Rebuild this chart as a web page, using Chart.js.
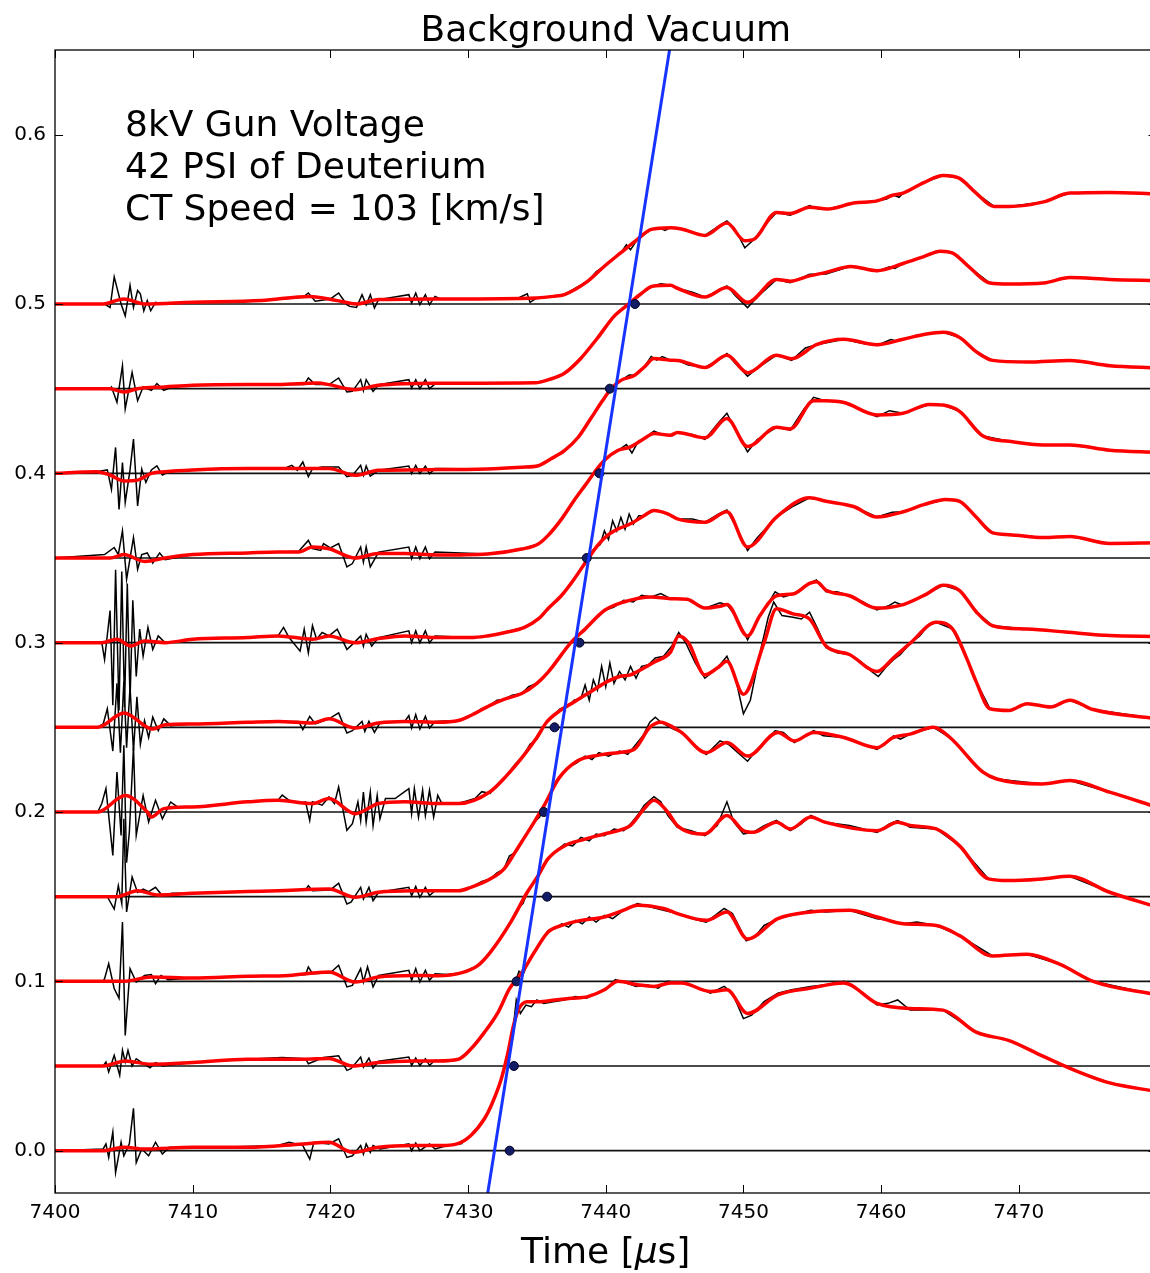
<!DOCTYPE html>
<html>
<head>
<meta charset="utf-8">
<title>Background Vacuum</title>
<script src="https://cdn.jsdelivr.net/npm/chart.js@4.4.0/dist/chart.umd.min.js"></script>
<style>
  html, body { margin: 0; padding: 0; background: #fff; }
  #wrap { width: 1150px; height: 1273px; overflow: hidden; }
</style>
</head>
<body>
<div id="wrap"><canvas id="chart" width="1162" height="1273"></canvas></div>
<script>
// axis ranges: time in microseconds, probe signals stacked 0.05 apart
const xMin = 7400, xMax = 7480;
const yMin = -0.025, yMax = 0.65;
const xTicks = [7400, 7410, 7420, 7430, 7440, 7450, 7460, 7470];
const yTicks = [0.0, 0.1, 0.2, 0.3, 0.4, 0.5, 0.6];
const offsets = [0.0, 0.05, 0.10, 0.15, 0.20, 0.25, 0.30, 0.35, 0.40, 0.45, 0.50];

// arrival markers and the linear fit through them
const arrivalTimes = [7433.02, 7433.33, 7433.53, 7435.74, 7435.5, 7436.28, 7438.09, 7438.62, 7439.54, 7440.3, 7442.12];
const fitTimes = [7430.94, 7445.61];
const fitLevels = [-0.05, 0.70];

// smoothed signals [time, value], value relative to the trace offset
const smooth00 = [[7400,0],[7403.5,0],[7405,0.002],[7406.5,0.001],[7410,0.002],[7414,0.002],[7418,0.004],[7419.9,0.005],[7421.6,-0.001],[7423.5,0.002],[7426,0.003],[7428,0.003],[7429.2,0.004],[7430.2,0.009],[7431.2,0.019],[7431.7,0.027],[7432.4,0.042],[7432.9,0.058],[7433.3,0.074],[7433.7,0.084],[7434.3,0.088],[7435.1,0.088],[7436.3,0.089],[7437.5,0.090],[7438.7,0.091],[7439.9,0.095],[7440.9,0.100],[7442.3,0.098],[7443.5,0.097],[7444.7,0.099],[7445.5,0.099],[7447.6,0.094],[7448.8,0.095],[7450.3,0.081],[7452.5,0.092],[7454.9,0.096],[7457.3,0.099],[7459.7,0.087],[7462.1,0.084],[7464.5,0.083],[7466.9,0.070],[7469.3,0.065],[7471.7,0.056],[7474.2,0.047],[7476.6,0.040],[7480,0.035]];
const smooth05 = [[7400,0],[7403.5,0],[7405.1,0.003],[7407,0.001],[7410,0.002],[7414,0.004],[7418,0.004],[7419.9,0.0045],[7421.6,0],[7423.5,0.002],[7426,0.003],[7427.8,0.003],[7429.3,0.004],[7430.2,0.010],[7431.2,0.020],[7432.2,0.032],[7433.0,0.0455],[7433.9,0.055],[7434.8,0.067],[7435.8,0.079],[7436.8,0.083],[7438.2,0.086],[7439.9,0.088],[7441.3,0.092],[7442.3,0.095],[7444.2,0.093],[7445.2,0.090],[7447.3,0.086],[7448.8,0.091],[7450.3,0.075],[7452.5,0.087],[7454.9,0.091],[7457.7,0.092],[7459.7,0.088],[7461.6,0.084],[7464.0,0.083],[7465.7,0.077],[7468.1,0.065],[7470.6,0.066],[7473.0,0.060],[7475.4,0.050],[7480,0.042]];
const smooth10 = [[7400,0],[7403.5,0],[7405,0],[7407,0.0026],[7410,0.002],[7414,0.003],[7417,0.0035],[7419.9,0.0055],[7421.8,-0.0004],[7423.5,0.0026],[7426,0.0035],[7427.8,0.0033],[7429.5,0.005],[7430.7,0.0093],[7431.6,0.017],[7433.1,0.035],[7434.3,0.0526],[7435.1,0.0625],[7435.8,0.0723],[7437.0,0.080],[7438.5,0.084],[7439.9,0.087],[7441.3,0.090],[7441.8,0.092],[7442.8,0.102],[7443.5,0.107],[7444.5,0.100],[7445.2,0.092],[7447.2,0.087],[7448.8,0.098],[7450.0,0.089],[7450.7,0.088],[7452.4,0.094],[7453.4,0.090],[7454.9,0.097],[7455.9,0.094],[7459.7,0.089],[7461.2,0.094],[7462.1,0.092],[7464.0,0.090],[7465.7,0.080],[7467.8,0.0605],[7469.3,0.0595],[7471.7,0.0605],[7473.7,0.062],[7476.6,0.0526],[7480,0.044]];
const smooth15 = [[7400,0],[7403.5,0],[7404.5,0],[7406,0.0035],[7407.5,0.001],[7410,0.002],[7414,0.003],[7416.2,0.0035],[7419.9,0.0045],[7421.8,-0.0004],[7423.5,0.0026],[7426,0.0035],[7427.8,0.0035],[7429.3,0.0035],[7430.2,0.0055],[7431.6,0.0104],[7432.6,0.0163],[7433.4,0.026],[7434.1,0.035],[7434.8,0.044],[7435.6,0.055],[7436.6,0.070],[7437.9,0.080],[7439.5,0.0836],[7441.0,0.0852],[7442.1,0.0872],[7443.2,0.100],[7444.0,0.103],[7444.9,0.100],[7445.5,0.097],[7447.3,0.085],[7448.8,0.091],[7450.3,0.083],[7452.5,0.097],[7453.7,0.092],[7455.1,0.097],[7457.3,0.094],[7459.7,0.088],[7460.9,0.094],[7462.1,0.096],[7463.8,0.100],[7465.0,0.094],[7467.4,0.0735],[7468.4,0.0695],[7471.7,0.0666],[7473.7,0.0686],[7476.6,0.0617],[7480,0.053]];
const smooth20 = [[7400,0],[7403.1,0],[7405.1,0.0098],[7406.7,0],[7407.0,-0.003],[7407.9,0.002],[7410,0.003],[7414,0.006],[7416.2,0.0069],[7418.7,0.005],[7419.9,0.0079],[7421.8,-0.001],[7423.5,0.005],[7425.4,0.006],[7427.8,0.005],[7429.3,0.005],[7431.6,0.012],[7432.8,0.0215],[7434.0,0.033],[7435.0,0.044],[7435.7,0.053],[7436.7,0.060],[7437.7,0.065],[7438.9,0.071],[7440.1,0.077],[7441.0,0.080],[7441.8,0.081],[7442.3,0.083],[7443.5,0.0885],[7444.7,0.0944],[7445.3,0.104],[7446.0,0.100],[7447.2,0.081],[7448.1,0.085],[7448.8,0.089],[7450.0,0.0695],[7451.5,0.100],[7452.4,0.120],[7453.6,0.117],[7454.8,0.114],[7456.0,0.098],[7457.7,0.093],[7459.7,0.083],[7460.9,0.091],[7462.1,0.0996],[7464.0,0.112],[7465.2,0.108],[7466.2,0.091],[7466.9,0.077],[7467.9,0.061],[7469.3,0.060],[7470.6,0.064],[7472.3,0.062],[7473.7,0.066],[7475.4,0.0605],[7480,0.055]];
const smooth25 = [[7400,0],[7403.1,0],[7405.0,0.0085],[7406.7,0],[7407.1,-0.001],[7408.0,0.0015],[7410,0.002],[7414,0.003],[7416.2,0.0035],[7418.7,0.0026],[7419.9,0.005],[7421.8,-0.0004],[7423.5,0.0026],[7425.4,0.0035],[7427.8,0.003],[7429.3,0.004],[7430.2,0.007],[7431.6,0.013],[7432.6,0.0165],[7433.9,0.020],[7435.0,0.026],[7435.8,0.0325],[7437.5,0.0503],[7438.5,0.058],[7439.9,0.069],[7441.3,0.074],[7443.3,0.077],[7444.7,0.076],[7445.9,0.0756],[7447.2,0.0704],[7448.3,0.0715],[7448.8,0.0725],[7450.3,0.054],[7451.2,0.066],[7452.4,0.0777],[7453.6,0.0787],[7454.8,0.085],[7455.3,0.086],[7456.0,0.081],[7457.7,0.0777],[7459.7,0.0704],[7461.6,0.0725],[7463.3,0.0787],[7464.5,0.0839],[7465.7,0.0808],[7466.9,0.0683],[7468.1,0.060],[7470.6,0.058],[7473.4,0.0563],[7476.6,0.0542],[7480,0.0537]];
const smooth30 = [[7400,0],[7403.4,0],[7404.5,0.002],[7405.5,-0.002],[7406.5,0.001],[7408,0],[7410,0.002],[7414,0.003],[7416.2,0.004],[7418.7,0.002],[7419.9,0.004],[7421.8,0],[7423.5,0.0024],[7425.4,0.004],[7427.8,0.003],[7430.2,0.003],[7431.4,0.004],[7432.7,0.006],[7434.1,0.009],[7435.1,0.014],[7435.8,0.020],[7436.8,0.028],[7437.7,0.0375],[7438.7,0.0494],[7439.4,0.0573],[7440.1,0.0632],[7440.9,0.0672],[7441.8,0.0702],[7442.8,0.0751],[7443.5,0.0781],[7444.5,0.0761],[7445.2,0.0731],[7447.2,0.0711],[7448.8,0.0773],[7450.3,0.0565],[7452.4,0.0742],[7454.8,0.0856],[7456.0,0.0835],[7458.0,0.0804],[7459.7,0.0742],[7461.6,0.0773],[7463.1,0.0815],[7464.7,0.0846],[7465.7,0.0835],[7466.9,0.0742],[7468.1,0.0648],[7469.3,0.0638],[7471.8,0.0621],[7473.7,0.0627],[7476.6,0.0586],[7480,0.059]];
const smooth35 = [[7400,0],[7404.0,0],[7405.0,0.002],[7406.5,-0.002],[7408,0],[7410,0.002],[7414,0.003],[7416.2,0.0035],[7417.7,0.0035],[7418.7,0.0065],[7419.9,0.0055],[7421.8,0],[7423.5,0.0026],[7425.4,0.0026],[7427.8,0.0018],[7431.4,0.0024],[7433.9,0.0053],[7435.1,0.0083],[7435.8,0.0132],[7436.8,0.0231],[7437.7,0.034],[7438.5,0.0429],[7439.2,0.0508],[7439.9,0.0577],[7440.9,0.0636],[7441.8,0.0656],[7442.8,0.0706],[7443.5,0.0735],[7444.7,0.0725],[7445.2,0.0741],[7447.2,0.071],[7448.8,0.0824],[7450.3,0.0658],[7452.4,0.0772],[7453.4,0.0762],[7455.1,0.0928],[7456.0,0.0928],[7457.3,0.0918],[7459.7,0.0845],[7461.6,0.0855],[7463.5,0.0907],[7464.5,0.0903],[7465.7,0.0866],[7467.4,0.072],[7469.3,0.0689],[7471.8,0.0668],[7473.7,0.0668],[7476.6,0.0637],[7480,0.0625]];
const smooth40 = [[7400,0],[7403.0,0.001],[7404.0,-0.001],[7405.0,-0.0045],[7406.0,-0.004],[7407.0,0],[7408,0.001],[7410,0.002],[7414,0.0028],[7416.2,0.0028],[7419.9,0.0028],[7421.8,-0.0012],[7423.5,0.0018],[7427.8,0.0022],[7431.4,0.0026],[7433.9,0.0036],[7435.1,0.0045],[7436.0,0.0085],[7437.0,0.0134],[7438.0,0.0213],[7438.9,0.0322],[7439.7,0.0421],[7440.4,0.050],[7441.1,0.0549],[7442.1,0.0579],[7442.8,0.0628],[7443.5,0.0678],[7444.7,0.0668],[7445.2,0.0667],[7447.2,0.0625],[7448.8,0.0698],[7450.3,0.0594],[7452.4,0.0698],[7453.5,0.0677],[7455.3,0.076],[7457.3,0.0792],[7459.7,0.076],[7461.6,0.0792],[7463.3,0.0823],[7464.5,0.0833],[7465.7,0.0802],[7466.9,0.0719],[7468.1,0.0667],[7470.6,0.0657],[7473.7,0.0667],[7476.6,0.0636],[7480,0.0623]];
const smooth45 = [[7400,0],[7404.0,0],[7405.0,-0.002],[7406.0,0],[7408,0.001],[7410,0.002],[7414,0.0024],[7416.2,0.0024],[7419.1,0.0033],[7419.9,0.0024],[7421.8,-0.0006],[7423.5,0.002],[7427.8,0.0032],[7434.9,0.0035],[7435.8,0.0052],[7437.0,0.0091],[7438.2,0.018],[7439.4,0.0299],[7440.6,0.0427],[7441.6,0.0496],[7442.5,0.0556],[7443.4,0.0605],[7444.7,0.0611],[7445.2,0.0593],[7447.2,0.0541],[7448.8,0.0597],[7450.3,0.051],[7452.4,0.0645],[7453.4,0.0635],[7454.8,0.0666],[7456.0,0.0687],[7457.8,0.0722],[7459.7,0.0697],[7461.6,0.0739],[7463.1,0.078],[7464.3,0.0812],[7465.2,0.0801],[7466.4,0.0718],[7467.9,0.0624],[7469.3,0.0618],[7471.8,0.0624],[7473.7,0.0656],[7476.6,0.0645],[7480,0.0638]];
const smooth50 = [[7400,0],[7403.5,0],[7405.0,0.003],[7406.5,0],[7410,0.001],[7415,0.002],[7418.5,0.0045],[7420.5,0.002],[7421.9,0],[7423.5,0.0026],[7428,0.003],[7435.0,0.0036],[7436.2,0.0045],[7437.0,0.0056],[7438.7,0.0135],[7439.9,0.0223],[7441.1,0.0303],[7442.3,0.0382],[7443.3,0.0441],[7444.7,0.0451],[7445.5,0.0443],[7447.2,0.0405],[7448.8,0.0478],[7450.1,0.0374],[7450.8,0.0384],[7452.4,0.0541],[7453.4,0.0534],[7454.8,0.0572],[7456.1,0.0561],[7458.0,0.0596],[7459.7,0.0609],[7460.9,0.0644],[7461.6,0.0655],[7463.1,0.0717],[7464.5,0.0759],[7465.7,0.0742],[7466.9,0.0655],[7468.2,0.0576],[7469.3,0.0576],[7471.8,0.0603],[7473.7,0.0655],[7476.6,0.0659],[7480,0.065]];

// raw probe signals [time, value], same offsets
const raw00 = [[7400,0],[7403.5,0.001],[7403.7,0.004],[7403.9,-0.004],[7404.2,0.011],[7404.4,-0.013],[7404.8,0.005],[7405.0,-0.003],[7405.4,0.004],[7405.7,0.025],[7405.9,-0.007],[7406.3,0.001],[7406.8,-0.003],[7407.3,0.005],[7407.8,-0.002],[7408.3,0.002],[7412,0.002],[7416.2,0.003],[7417.0,0.005],[7418.0,0.003],[7418.5,-0.005],[7418.8,0.005],[7419.9,0.004],[7420.6,0.007],[7421.2,-0.004],[7421.6,-0.003],[7422.2,0.003],[7422.4,-0.002],[7422.6,0.004],[7422.9,-0.001],[7423.1,0.003],[7423.6,0.001],[7425.7,0.004],[7425.9,0],[7426.2,0.0045],[7426.5,0],[7427.2,0.004],[7427.6,0.001],[7428.5,0.003],[7429.5,0.004],[7430.2,0.009],[7431.2,0.019],[7431.8,0.029],[7432.4,0.042],[7432.9,0.058],[7433.2,0.066],[7433.5,0.089],[7433.8,0.081],[7434.2,0.086],[7434.6,0.085],[7435.0,0.089],[7435.5,0.087],[7436.2,0.088],[7437.0,0.089],[7437.8,0.091],[7438.6,0.090],[7439.3,0.093],[7440.0,0.095],[7440.7,0.101],[7441.5,0.099],[7442.2,0.097],[7443.0,0.098],[7443.8,0.096],[7444.5,0.100],[7445.5,0.099],[7446.5,0.097],[7447.6,0.093],[7448.6,0.097],[7449.2,0.093],[7450.0,0.078],[7450.6,0.080],[7451.5,0.088],[7452.5,0.093],[7453.5,0.095],[7454.9,0.097],[7456.0,0.098],[7457.3,0.100],[7458.5,0.094],[7459.7,0.086],[7460.5,0.087],[7461.2,0.089],[7462.1,0.083],[7464.5,0.083],[7466.9,0.070],[7469.3,0.065],[7471.7,0.056],[7474.2,0.047],[7476.6,0.040],[7480,0.035]];
const raw05 = [[7400,0],[7403.5,0],[7403.7,0.0024],[7403.9,-0.0035],[7404.3,0.0063],[7404.7,-0.0055],[7404.9,0.0093],[7405.1,0.0024],[7405.3,0.0093],[7405.6,0],[7405.9,0.0043],[7406.5,0.001],[7406.9,-0.001],[7407.3,0.002],[7407.8,0],[7410,0.002],[7414,0.004],[7416.5,0.005],[7418.2,0.0043],[7418.4,0.0013],[7419.5,0.005],[7420.6,0.006],[7421.2,-0.0026],[7421.5,-0.0016],[7422.2,0.0053],[7422.4,-0.0006],[7422.8,0.0047],[7423.1,-0.0012],[7423.5,0.0028],[7425.7,0.0053],[7425.9,0.0004],[7426.2,0.0047],[7426.5,0.0004],[7426.9,0.0043],[7427.2,0.0004],[7427.6,0.0034],[7428.5,0.003],[7429.3,0.004],[7430.2,0.010],[7431.2,0.020],[7432.2,0.032],[7433.0,0.0455],[7433.4,0.049],[7433.7,0.056],[7434.0,0.054],[7434.4,0.062],[7434.8,0.067],[7435.3,0.073],[7435.8,0.080],[7436.3,0.081],[7436.8,0.084],[7437.3,0.082],[7437.8,0.086],[7438.3,0.084],[7438.8,0.088],[7439.3,0.085],[7439.9,0.089],[7440.5,0.087],[7441.3,0.092],[7442.3,0.096],[7443.2,0.094],[7444.2,0.092],[7445.2,0.090],[7446.3,0.087],[7447.3,0.085],[7448.6,0.093],[7449.2,0.090],[7450.2,0.074],[7450.8,0.076],[7451.5,0.083],[7452.5,0.087],[7453.5,0.089],[7454.9,0.092],[7456,0.091],[7457.7,0.092],[7459.7,0.087],[7460.6,0.086],[7461.6,0.084],[7462.6,0.085],[7464.0,0.083],[7465.7,0.077],[7468.1,0.065],[7470.6,0.066],[7473.0,0.060],[7475.4,0.050],[7480,0.042]];
const raw10 = [[7400,0],[7403.5,0],[7403.6,0.0016],[7403.9,0.0104],[7404.3,-0.0043],[7404.65,-0.010],[7404.9,0.035],[7405.1,-0.032],[7405.45,0.0075],[7405.9,-0.0004],[7406.5,0.0035],[7407.0,0.004],[7407.3,-0.0014],[7407.7,0.0035],[7408.2,0.001],[7410,0.002],[7414,0.003],[7417,0.0035],[7418.2,0.004],[7418.4,0.0085],[7418.7,0.0045],[7420.0,0.005],[7420.6,0.0095],[7421.2,-0.0033],[7421.6,-0.0024],[7422.2,0.0075],[7422.4,-0.0004],[7422.7,0.0085],[7423.1,-0.0033],[7423.5,0.0035],[7425.7,0.0065],[7425.9,0.0006],[7426.2,0.0075],[7426.5,-0.0004],[7426.9,0.0065],[7427.2,0.0006],[7427.6,0.0045],[7428.5,0.004],[7429.5,0.005],[7430.7,0.0093],[7431.6,0.017],[7432.3,0.025],[7433.1,0.035],[7433.6,0.043],[7434.0,0.046],[7434.3,0.0526],[7435.1,0.0625],[7435.8,0.0723],[7436.4,0.077],[7437.0,0.081],[7437.6,0.080],[7438.2,0.085],[7438.8,0.083],[7439.3,0.087],[7439.9,0.086],[7440.6,0.090],[7441.3,0.089],[7441.8,0.093],[7442.4,0.099],[7442.8,0.104],[7443.5,0.109],[7444.0,0.106],[7444.5,0.098],[7445.2,0.091],[7446.2,0.089],[7447.2,0.086],[7448.1,0.092],[7448.8,0.106],[7449.3,0.094],[7450.0,0.087],[7450.7,0.088],[7451.5,0.092],[7452.4,0.095],[7453.4,0.089],[7454.2,0.093],[7454.9,0.098],[7455.9,0.094],[7457.7,0.092],[7459.7,0.088],[7460.6,0.093],[7461.2,0.095],[7462.1,0.091],[7464.0,0.090],[7465.7,0.080],[7467.8,0.0605],[7469.3,0.0595],[7471.7,0.0605],[7473.7,0.062],[7476.6,0.0526],[7480,0.044]];
const raw15 = [[7400,0],[7403.8,0],[7404.3,-0.0073],[7404.6,0.0065],[7404.85,-0.004],[7405.0,0.046],[7405.2,-0.009],[7405.6,0.0116],[7406.0,0.0025],[7406.4,0.0045],[7406.8,0.003],[7407.3,0.0055],[7407.8,0.0005],[7408.5,0.002],[7410,0.002],[7414,0.003],[7416.2,0.0035],[7418.2,0.004],[7418.4,0.0065],[7418.7,0.0035],[7420.0,0.004],[7420.6,0.008],[7421.2,-0.0043],[7421.5,-0.0033],[7422.2,0.0055],[7422.4,-0.0014],[7422.8,0.0055],[7423.1,-0.0024],[7423.5,0.0026],[7425.7,0.0055],[7425.9,0.0006],[7426.2,0.006],[7426.5,-0.0004],[7426.9,0.0055],[7427.2,0.0006],[7427.6,0.0035],[7429.3,0.0035],[7430.2,0.0055],[7431.0,0.009],[7431.6,0.0104],[7432.1,0.014],[7432.6,0.0163],[7433.0,0.024],[7433.4,0.026],[7434.1,0.035],[7434.8,0.044],[7435.2,0.047],[7435.6,0.055],[7436.1,0.064],[7436.6,0.070],[7437.2,0.076],[7437.9,0.079],[7438.5,0.083],[7439.0,0.081],[7439.5,0.085],[7440.2,0.083],[7441.0,0.086],[7441.6,0.084],[7442.1,0.089],[7442.7,0.095],[7443.2,0.103],[7443.6,0.106],[7444.0,0.103],[7444.9,0.099],[7445.5,0.097],[7446.5,0.089],[7447.3,0.084],[7448.3,0.092],[7448.9,0.090],[7449.6,0.085],[7450.3,0.080],[7451.0,0.087],[7452.3,0.098],[7452.9,0.097],[7453.7,0.091],[7455.1,0.098],[7455.8,0.095],[7457.3,0.094],[7459.7,0.087],[7460.4,0.091],[7460.9,0.095],[7461.4,0.093],[7462.1,0.096],[7463.8,0.100],[7465.0,0.094],[7467.4,0.0735],[7468.4,0.0695],[7471.7,0.0666],[7473.7,0.0686],[7476.6,0.0617],[7480,0.053]];
const raw20 = [[7400,0],[7403.1,0],[7403.4,0.005],[7403.7,0.0138],[7404.2,-0.0256],[7404.5,0.0236],[7404.8,-0.0138],[7405.0,0.0394],[7405.2,-0.030],[7405.4,-0.0118],[7405.7,0.0384],[7405.9,-0.0138],[7406.4,0.0098],[7406.8,-0.0059],[7407.3,0.0069],[7407.8,-0.004],[7408.4,0.0059],[7408.9,0.003],[7410,0.003],[7414,0.006],[7416.2,0.0069],[7416.5,0.010],[7417.0,0.0069],[7417.7,0.005],[7418.2,0.006],[7418.5,-0.005],[7418.7,0.006],[7419.4,0.004],[7419.9,0.0089],[7420.3,0.005],[7420.6,0.0148],[7421.2,-0.0108],[7421.6,-0.0069],[7422.0,0.006],[7422.2,-0.005],[7422.4,0.0118],[7422.6,-0.006],[7422.9,0.0118],[7423.1,-0.008],[7423.4,0.0098],[7423.6,-0.004],[7424.0,0.0079],[7424.7,0.0079],[7425.7,0.0138],[7425.9,-0.001],[7426.1,0.0138],[7426.4,-0.003],[7426.7,0.0128],[7426.9,-0.002],[7427.2,0.0128],[7427.5,-0.003],[7427.8,0.0098],[7428.1,0.005],[7429.3,0.005],[7430.5,0.008],[7431.0,0.012],[7431.6,0.011],[7432.2,0.017],[7432.8,0.0215],[7433.4,0.028],[7434.0,0.033],[7434.5,0.040],[7435.0,0.043],[7435.7,0.053],[7436.2,0.057],[7436.7,0.061],[7437.2,0.062],[7437.7,0.066],[7438.2,0.067],[7438.5,0.075],[7438.8,0.066],[7439.1,0.078],[7439.4,0.072],[7439.7,0.086],[7440.0,0.074],[7440.3,0.088],[7440.6,0.076],[7441.0,0.083],[7441.4,0.078],[7441.8,0.086],[7442.2,0.079],[7442.6,0.086],[7443.1,0.087],[7443.6,0.091],[7444.2,0.092],[7444.8,0.098],[7445.3,0.106],[7445.8,0.100],[7446.5,0.088],[7447.2,0.079],[7447.8,0.083],[7448.2,0.086],[7448.8,0.092],[7449.4,0.080],[7450.0,0.058],[7450.5,0.066],[7451.2,0.094],[7451.8,0.115],[7452.2,0.124],[7452.8,0.116],[7453.6,0.115],[7454.2,0.114],[7454.8,0.118],[7455.4,0.108],[7456.0,0.097],[7456.8,0.094],[7457.7,0.093],[7458.5,0.089],[7459.3,0.083],[7459.8,0.080],[7460.4,0.086],[7460.9,0.090],[7461.4,0.093],[7462.1,0.0996],[7462.8,0.104],[7463.4,0.110],[7464.0,0.112],[7465.2,0.108],[7466.2,0.091],[7466.9,0.077],[7467.9,0.061],[7469.3,0.060],[7470.6,0.064],[7472.3,0.062],[7473.7,0.066],[7475.4,0.0605],[7480,0.055]];
const raw25 = [[7400,0],[7403.1,0],[7403.5,0.002],[7403.8,0.011],[7404.2,-0.014],[7404.5,0.026],[7404.75,-0.015],[7405.0,0.027],[7405.2,-0.012],[7405.45,0.024],[7405.7,-0.014],[7405.95,0.018],[7406.2,-0.010],[7406.5,0.004],[7406.8,-0.006],[7407.1,0.006],[7407.5,-0.002],[7407.9,0.005],[7408.4,0.001],[7410,0.002],[7414,0.003],[7416.2,0.0035],[7417.7,0.0035],[7418.0,-0.0014],[7418.5,0.0065],[7418.9,0.002],[7419.9,0.005],[7420.6,0.0085],[7421.2,-0.0033],[7421.6,-0.002],[7422.3,0.0035],[7422.5,-0.0024],[7422.8,0.0035],[7423.2,-0.003],[7423.6,0.0026],[7425.4,0.0035],[7425.7,0.0069],[7425.9,-0.0004],[7426.2,0.0075],[7426.5,-0.001],[7426.9,0.0065],[7427.2,-0.0004],[7427.6,0.0035],[7429.3,0.004],[7430.2,0.007],[7431.0,0.011],[7431.6,0.013],[7432.1,0.016],[7432.6,0.0165],[7433.2,0.019],[7433.9,0.020],[7434.4,0.024],[7435.0,0.026],[7435.8,0.0325],[7436.6,0.041],[7437.5,0.0503],[7438.5,0.058],[7439.2,0.064],[7439.9,0.069],[7440.6,0.071],[7441.3,0.075],[7442.0,0.074],[7442.6,0.078],[7443.3,0.077],[7444.0,0.079],[7444.7,0.076],[7445.9,0.0756],[7446.6,0.073],[7447.2,0.0704],[7448.3,0.0735],[7448.8,0.0725],[7449.5,0.065],[7450.3,0.0517],[7451.2,0.066],[7451.8,0.073],[7452.3,0.080],[7452.9,0.077],[7453.6,0.0787],[7454.8,0.085],[7455.3,0.087],[7456.0,0.080],[7456.8,0.080],[7457.7,0.0777],[7458.7,0.074],[7459.7,0.0694],[7460.6,0.072],[7461.0,0.074],[7461.6,0.072],[7462.3,0.075],[7463.3,0.0787],[7464.5,0.0839],[7465.7,0.0808],[7466.9,0.0683],[7468.1,0.060],[7470.6,0.058],[7473.4,0.0563],[7476.6,0.0542],[7480,0.0537]];
const raw30 = [[7400,0],[7403.4,0],[7403.6,-0.010],[7404.0,0.019],[7404.2,-0.037],[7404.4,0.043],[7404.65,-0.040],[7404.85,0.042],[7405.05,-0.038],[7405.25,0.035],[7405.45,-0.034],[7405.65,0.025],[7405.9,-0.020],[7406.15,0.008],[7406.4,-0.008],[7406.75,0.009],[7407.1,-0.004],[7407.5,0.004],[7408.0,0],[7410,0.002],[7414,0.003],[7416.2,0.004],[7416.6,0.009],[7417.0,0.003],[7417.8,-0.005],[7418.1,0.008],[7418.4,-0.006],[7418.7,0.010],[7419.0,0.002],[7419.4,0.006],[7419.9,0.004],[7420.5,0.008],[7421.2,-0.004],[7421.6,-0.001],[7422.2,0.004],[7422.4,-0.002],[7422.6,0.005],[7423.0,-0.002],[7423.5,0.003],[7425.7,0.007],[7425.9,0],[7426.2,0.007],[7426.5,0],[7426.9,0.007],[7427.2,0],[7427.6,0.004],[7430.2,0.003],[7431.4,0.004],[7432.7,0.006],[7433.5,0.008],[7434.1,0.009],[7435.1,0.014],[7435.8,0.020],[7436.8,0.028],[7437.7,0.0375],[7438.2,0.044],[7438.7,0.0494],[7439.1,0.055],[7439.6,0.058],[7439.9,0.066],[7440.2,0.061],[7440.5,0.072],[7440.8,0.066],[7441.1,0.074],[7441.4,0.067],[7441.7,0.076],[7442.0,0.070],[7442.4,0.075],[7442.8,0.0751],[7443.5,0.078],[7444.1,0.077],[7444.5,0.0761],[7445.2,0.0731],[7446.3,0.073],[7447.2,0.0711],[7448.2,0.076],[7448.8,0.0783],[7449.5,0.068],[7450.3,0.0544],[7451.0,0.062],[7452.4,0.0742],[7453.5,0.080],[7454.8,0.0856],[7456.0,0.0835],[7458.0,0.0804],[7459.7,0.0742],[7460.8,0.077],[7461.6,0.0773],[7463.1,0.0815],[7464.7,0.0846],[7465.7,0.0835],[7466.9,0.0742],[7468.1,0.0648],[7469.3,0.0638],[7471.8,0.0621],[7473.7,0.0627],[7476.6,0.0586],[7480,0.059]];
const raw35 = [[7400,0],[7403.6,0.002],[7404.3,0.0062],[7404.6,0.002],[7404.9,0.016],[7405.2,-0.0125],[7405.7,0.0121],[7406.0,-0.0066],[7406.3,0.002],[7406.7,0.003],[7407.1,-0.003],[7407.6,0.003],[7408.0,-0.001],[7410,0.002],[7414,0.003],[7416.2,0.0035],[7417.7,0.004],[7418.4,0.0104],[7418.7,0.0055],[7419.3,0.0045],[7419.5,0.0085],[7420.0,0.006],[7420.6,0.0085],[7421.2,-0.0053],[7421.6,-0.0033],[7422.2,0.0065],[7422.4,-0.0024],[7422.6,0.0065],[7422.9,-0.0053],[7423.5,0.0035],[7425.7,0.0065],[7425.9,-0.0004],[7426.2,0.0065],[7426.5,-0.0004],[7426.9,0.0065],[7427.2,-0.0004],[7427.6,0.0035],[7431.4,0.0024],[7433.9,0.0053],[7435.1,0.0083],[7435.8,0.0132],[7436.8,0.0231],[7437.7,0.034],[7438.5,0.0429],[7439.2,0.0508],[7439.9,0.0577],[7440.5,0.062],[7440.9,0.0636],[7441.5,0.067],[7441.9,0.062],[7442.3,0.068],[7442.8,0.0706],[7443.5,0.075],[7444.1,0.073],[7444.7,0.0725],[7445.2,0.0741],[7446.3,0.073],[7447.2,0.070],[7448.2,0.080],[7448.8,0.0855],[7449.4,0.076],[7450.3,0.0627],[7451.0,0.070],[7452.4,0.0772],[7453.4,0.0755],[7454.4,0.088],[7455.1,0.0949],[7456.0,0.0928],[7457.3,0.0918],[7459.7,0.0835],[7460.6,0.087],[7461.6,0.0855],[7463.5,0.0907],[7464.5,0.0903],[7465.7,0.0866],[7467.4,0.072],[7469.3,0.0689],[7471.8,0.0668],[7473.7,0.0668],[7476.6,0.0637],[7480,0.0625]];
const raw40 = [[7400,0],[7403.0,0.001],[7403.8,0.002],[7404.1,-0.0095],[7404.4,0.0153],[7404.65,-0.0213],[7404.9,0.0064],[7405.1,-0.0172],[7405.45,0.002],[7405.7,0.0202],[7406.0,-0.0192],[7406.3,0.0025],[7406.6,-0.0054],[7407.0,0.002],[7407.4,0.0044],[7407.8,-0.001],[7408.3,0.001],[7410,0.002],[7414,0.0028],[7416.6,0.0028],[7417.2,0.0047],[7417.6,0.0018],[7418.0,0.0067],[7418.4,-0.002],[7418.7,0.0028],[7419.4,0.0037],[7420.6,0.0037],[7421.2,-0.002],[7421.6,-0.0012],[7422.2,0.0047],[7422.4,-0.0012],[7422.6,0.0043],[7422.9,-0.0016],[7423.5,0.0018],[7425.7,0.0043],[7425.9,-0.0002],[7426.2,0.0047],[7426.5,-0.0002],[7426.9,0.0043],[7427.2,-0.0002],[7427.6,0.0028],[7431.4,0.0026],[7433.9,0.0036],[7435.1,0.0045],[7436.0,0.0085],[7437.0,0.0134],[7438.0,0.0213],[7438.9,0.0322],[7439.7,0.0421],[7440.4,0.050],[7441.1,0.0549],[7441.7,0.058],[7442.1,0.0579],[7442.8,0.0628],[7443.3,0.069],[7443.7,0.0668],[7444.1,0.069],[7444.7,0.0668],[7445.2,0.0667],[7446.0,0.064],[7447.2,0.0625],[7448.2,0.067],[7448.8,0.0708],[7449.4,0.065],[7450.3,0.0574],[7451.0,0.062],[7452.4,0.0698],[7453.5,0.0667],[7454.5,0.074],[7455.3,0.076],[7457.3,0.0792],[7458.5,0.077],[7459.7,0.0755],[7460.7,0.079],[7461.2,0.078],[7461.6,0.0792],[7463.3,0.0823],[7464.5,0.0833],[7465.7,0.0802],[7466.9,0.0719],[7468.1,0.0667],[7470.6,0.0657],[7473.7,0.0667],[7476.6,0.0636],[7480,0.0623]];
const raw45 = [[7400,0],[7404.0,0],[7404.1,0.001],[7404.5,-0.008],[7404.9,0.0135],[7405.1,-0.012],[7405.6,0.0096],[7406.0,-0.0071],[7406.4,0.001],[7407.0,-0.001],[7407.4,0.003],[7407.9,-0.001],[7408.5,0.001],[7410,0.002],[7414,0.0024],[7416.2,0.0024],[7418.1,0.0024],[7418.4,0.0063],[7418.9,0.0024],[7419.9,0.0024],[7420.6,0.0063],[7421.2,-0.002],[7421.6,-0.0016],[7422.2,0.0053],[7422.4,-0.0012],[7422.6,0.0053],[7423.1,-0.0016],[7423.5,0.0024],[7425.7,0.0053],[7425.9,0.0004],[7426.2,0.0053],[7426.5,0],[7426.9,0.0053],[7427.2,0],[7427.6,0.0028],[7434.9,0.0035],[7435.8,0.0052],[7437.0,0.0091],[7438.2,0.018],[7439.4,0.0299],[7440.6,0.0427],[7441.6,0.0496],[7442.5,0.0556],[7443.4,0.0605],[7444.0,0.062],[7444.7,0.0611],[7445.2,0.0593],[7446.3,0.057],[7447.2,0.0541],[7448.2,0.058],[7448.8,0.0607],[7449.4,0.055],[7450.3,0.0479],[7451.0,0.054],[7452.4,0.0645],[7453.4,0.0625],[7454.8,0.0676],[7456.0,0.0677],[7457.8,0.0722],[7459.7,0.0692],[7460.6,0.072],[7461.0,0.071],[7461.6,0.0739],[7463.1,0.078],[7464.3,0.0812],[7465.2,0.0801],[7466.4,0.0718],[7467.9,0.0624],[7469.3,0.0618],[7471.8,0.0624],[7473.7,0.0656],[7476.6,0.0645],[7480,0.0638]];
const raw50 = [[7400,0],[7403.6,0],[7404.0,-0.002],[7404.3,0.016],[7404.8,0],[7405.1,-0.007],[7405.45,0.011],[7405.7,-0.002],[7406.0,0.008],[7406.2,0.006],[7406.45,-0.004],[7406.7,0.002],[7406.95,-0.004],[7407.3,0.001],[7407.8,0],[7410,0.001],[7415,0.002],[7418.0,0.004],[7418.4,0.0065],[7418.9,0.0016],[7420.0,0.003],[7420.6,0.0065],[7421.2,-0.0004],[7421.4,-0.0014],[7421.9,-0.002],[7422.3,0.0055],[7422.6,-0.0004],[7422.9,0.0055],[7423.2,-0.0024],[7423.5,0.0026],[7425.7,0.0055],[7425.9,0.0006],[7426.2,0.0065],[7426.5,-0.0004],[7426.9,0.0055],[7427.2,-0.0004],[7427.6,0.0045],[7428,0.003],[7433.5,0.003],[7434.3,0.006],[7434.5,0.001],[7435.0,0.0036],[7436.2,0.0045],[7437.0,0.0056],[7438.7,0.0135],[7439.3,0.019],[7439.9,0.0223],[7441.1,0.0303],[7441.5,0.035],[7441.8,0.032],[7442.3,0.0382],[7443.3,0.0441],[7443.9,0.045],[7444.3,0.0435],[7444.7,0.0451],[7445.5,0.0443],[7446.3,0.042],[7447.2,0.0405],[7448.2,0.046],[7448.8,0.049],[7449.4,0.044],[7450.1,0.0332],[7450.8,0.0384],[7451.5,0.046],[7452.4,0.0541],[7453.4,0.0525],[7454.8,0.0582],[7455.5,0.056],[7456.1,0.0561],[7458.0,0.0596],[7459.7,0.0609],[7460.4,0.062],[7460.9,0.0644],[7461.3,0.063],[7461.6,0.0655],[7463.1,0.0717],[7464.5,0.0759],[7465.7,0.0742],[7466.9,0.0655],[7468.2,0.0576],[7469.3,0.0576],[7471.8,0.0603],[7473.7,0.0655],[7476.6,0.0659],[7480,0.065]];

const smoothTraces = [smooth00, smooth05, smooth10, smooth15, smooth20, smooth25, smooth30, smooth35, smooth40, smooth45, smooth50];
const rawTraces = [raw00, raw05, raw10, raw15, raw20, raw25, raw30, raw35, raw40, raw45, raw50];

const FONT = "'DejaVu Sans', 'Liberation Sans', sans-serif";

// shift a [time, value] list up by its trace offset
function stacked(trace, offset) {
  return trace.map(([t, v]) => ({ x: t, y: v + offset }));
}

const datasets = [];

// fitted arrival line on top
datasets.push({
  data: fitTimes.map((t, i) => ({ x: t, y: fitLevels[i] })),
  showLine: true, borderColor: '#1633ff', borderWidth: 3, pointRadius: 0, order: 0
});

// arrival points on each baseline
datasets.push({
  data: arrivalTimes.map((t, i) => ({ x: t, y: offsets[i] })),
  showLine: false, pointRadius: 4.5, pointBackgroundColor: '#131d66',
  pointBorderColor: '#000022', pointBorderWidth: 1, order: 1
});

offsets.forEach((off, i) => {
  datasets.push({
    data: stacked(smoothTraces[i], off),
    showLine: true, borderColor: '#ff0000', borderWidth: 3.5, pointRadius: 0,
    cubicInterpolationMode: 'monotone', order: 2
  });
  datasets.push({
    data: stacked(rawTraces[i], off),
    showLine: true, borderColor: '#000000', borderWidth: 1.5, pointRadius: 0,
    tension: 0, order: 3
  });
  datasets.push({
    data: [{ x: xMin, y: off }, { x: xMax, y: off }],
    showLine: true, borderColor: '#111111', borderWidth: 1.6, pointRadius: 0, order: 4
  });
});

// box, inward ticks and the text around the plot
const decorations = {
  id: 'decorations',
  afterDatasetsDraw(chart) {
    const { ctx, chartArea: a, scales: { x, y } } = chart;
    ctx.save();
    ctx.strokeStyle = '#000';
    ctx.lineWidth = 1.3;
    ctx.strokeRect(a.left, a.top, a.right - a.left, a.bottom - a.top);
    ctx.lineWidth = 1;
    ctx.beginPath();
    xTicks.forEach(v => {
      const px = Math.round(x.getPixelForValue(v)) + 0.5;
      ctx.moveTo(px, a.bottom); ctx.lineTo(px, a.bottom - 8);
      ctx.moveTo(px, a.top); ctx.lineTo(px, a.top + 8);
    });
    yTicks.forEach(v => {
      const py = Math.round(y.getPixelForValue(v)) + 0.5;
      ctx.moveTo(a.left, py); ctx.lineTo(a.left + 8, py);
      ctx.moveTo(a.right, py); ctx.lineTo(a.right - 8, py);
    });
    ctx.stroke();
    ctx.restore();
  },
  afterDraw(chart) {
    const { ctx, chartArea: a } = chart;
    const cx = (a.left + a.right) / 2;
    ctx.save();
    ctx.fillStyle = '#000';
    ctx.textBaseline = 'alphabetic';

    ctx.font = '36px ' + FONT;
    ctx.textAlign = 'center';
    ctx.fillText('Background Vacuum', cx, 41);

    ctx.textAlign = 'left';
    ctx.fillText('8kV Gun Voltage', 125, 136);
    ctx.fillText('42 PSI of Deuterium', 125, 178);
    ctx.fillText('CT Speed = 103 [km/s]', 125, 220);

    // x label with italic mu
    const parts = [['Time [', '36px ' + FONT], ['\u03bc', 'italic 36px ' + FONT], ['s]', '36px ' + FONT]];
    let total = 0;
    parts.forEach(([s, f]) => { ctx.font = f; total += ctx.measureText(s).width; });
    let px = cx - total / 2;
    parts.forEach(([s, f]) => { ctx.font = f; ctx.fillText(s, px, 1263); px += ctx.measureText(s).width; });
    ctx.restore();
  }
};

new Chart(document.getElementById('chart'), {
  type: 'scatter',
  data: { datasets },
  options: {
    responsive: false,
    animation: false,
    devicePixelRatio: 1,
    events: [],
    layout: { padding: { top: 50, right: 1, left: 0, bottom: 0 } },
    plugins: { legend: { display: false }, tooltip: { enabled: false }, title: { display: false } },
    scales: {
      x: {
        type: 'linear', min: xMin, max: xMax,
        grid: { display: false, drawTicks: false }, border: { display: false },
        afterBuildTicks: s => { s.ticks = xTicks.map(v => ({ value: v })); },
        afterFit: s => { s.height = 80; },
        ticks: { font: { family: FONT, size: 20 }, color: '#000', padding: 8, maxRotation: 0, autoSkip: false,
                 callback: v => String(v) }
      },
      y: {
        type: 'linear', min: yMin, max: yMax,
        grid: { display: false, drawTicks: false }, border: { display: false },
        afterBuildTicks: s => { s.ticks = yTicks.map(v => ({ value: v })); },
        afterFit: s => { s.width = 55; },
        ticks: { font: { family: FONT, size: 20 }, color: '#000', padding: 9, autoSkip: false,
                 callback: v => v.toFixed(1) }
      }
    }
  },
  plugins: [decorations]
});
</script>
</body>
</html>
